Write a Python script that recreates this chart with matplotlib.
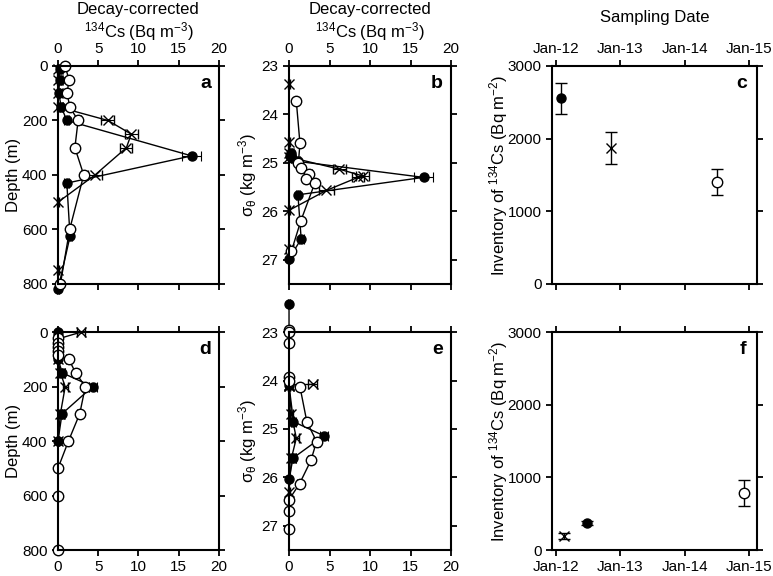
import datetime as dt

import matplotlib
matplotlib.use("Agg")
import matplotlib.pyplot as plt
import matplotlib.dates as mdates

plt.rcParams["font.family"] = ["Liberation Sans", "DejaVu Sans"]
plt.rcParams["mathtext.fontset"] = "custom"
plt.rcParams["mathtext.rm"] = "Liberation Sans"
plt.rcParams["mathtext.it"] = "Liberation Sans:italic"
plt.rcParams["font.size"] = 11

# --- panel a / b : first profile set (depth and sigma-theta) ---
a_fill_depth = [10, 50, 100, 150, 200, 330, 430, 625, 820]
a_fill_cs = [0.2, 0.2, 0.1, 0.4, 1.1, 16.6, 1.1, 1.5, 0.0]
a_fill_err = [0.2, 0.2, 0.2, 0.2, 0.3, 1.2, 0.3, 0.3, 0.1]
b_fill_sig = [24.80, 24.83, 24.86, 24.90, 24.97, 25.30, 25.66, 26.57, 26.98]

a_x_depth = [10, 50, 100, 150, 200, 250, 300, 400, 500, 750]
a_x_cs = [0, 0, 0, 0, 6.2, 9.1, 8.5, 4.6, 0, 0]
a_x_err = [0.1, 0.1, 0.1, 0.1, 0.8, 0.8, 0.75, 0.9, 0.1, 0.1]
b_x_sig = [23.37, 24.57, 24.80, 24.88, 25.13, 25.27, 25.30, 25.57, 25.98, 26.78]

a_open_depth = [0, 50, 100, 150, 200, 300, 400, 600, 800]
a_open_cs = [0.9, 1.35, 1.15, 1.45, 2.5, 2.1, 3.2, 1.45, 0.3]
a_open_err = [0.2, 0.2, 0.2, 0.2, 0.3, 0.2, 0.3, 0.2, 0.2]
b_open_sig = [23.73, 24.60, 25.01, 25.10, 25.23, 25.34, 25.41, 26.20, 26.82]

# --- panel d / e : second profile set ---
d_fill_depth = [0, 100, 150, 200, 300, 400]
d_fill_cs = [0.0, 0.0, 0.55, 4.3, 0.5, 0.0]
d_fill_err = [0.1, 0.1, 0.3, 0.5, 0.3, 0.1]
e_fill_sig = [22.42, 24.10, 24.85, 25.14, 25.60, 26.03]

d_x_depth = [0, 25, 50, 75, 100, 150, 200, 300, 400]
d_x_cs = [2.9, 0, 0, 0, 0, 0.3, 0.9, 0.3, 0]
d_x_err = [0.5, 0.1, 0.1, 0.1, 0.1, 0.2, 0.3, 0.2, 0.1]
e_x_sig = [24.08, 24.09, 24.10, 24.11, 24.12, 24.70, 25.19, 25.60, 26.30]

d_open_depth = [20, 40, 55, 70, 85, 100, 150, 200, 300, 400, 500, 600, 800]
d_open_cs = [0, 0, 0, 0, 0, 1.35, 2.2, 3.4, 2.7, 1.3, 0, 0, 0]
d_open_err = [0.1, 0.1, 0.1, 0.1, 0.1, 0.3, 0.3, 0.4, 0.3, 0.3, 0.1, 0.1, 0.1]
e_open_sig = [22.95, 23.00, 23.22, 23.93, 24.02, 24.13, 24.85, 25.26, 25.65,
              26.13, 26.46, 26.70, 27.07]

# --- panel c / f : inventories ---
c_dates = [dt.date(2012, 1, 29), dt.date(2012, 11, 6), dt.date(2014, 7, 5)]
c_inv = [2555, 1875, 1405]
c_err = [215, 220, 180]
f_dates = [dt.date(2012, 6, 28), dt.date(2012, 2, 15), dt.date(2014, 12, 1)]
f_inv = [377, 193, 791]
f_err = [30, 40, 180]

fill = dict(marker="o", mfc="black", mec="black", ms=6.5)
cross = dict(marker="x", mfc="none", mec="black", ms=7, mew=1)
opn = dict(marker="o", mfc="white", mec="black", ms=7.5)
styles = [cross, fill, opn]

cs_label = "Decay-corrected\n$\\mathregular{^{134}}$Cs (Bq m$\\mathregular{^{-3}}$)"
sig_label = "$\\mathregular{\\sigma_{\\theta}}$ (kg m$\\mathregular{^{-3}}$)"
inv_label = "Inventory of $\\mathregular{^{134}}$Cs (Bq m$\\mathregular{^{-2}}$)"

fig = plt.figure(figsize=(7.73, 5.76), dpi=100)
top_y, bot_y, h = 0.507, 0.045, 0.3785
ax_a = fig.add_axes([0.075, top_y, 0.2083, h])
ax_b = fig.add_axes([0.3739, top_y, 0.2096, h])
ax_c = fig.add_axes([0.7141, top_y, 0.2652, h])
ax_d = fig.add_axes([0.075, bot_y, 0.2083, h])
ax_e = fig.add_axes([0.3739, bot_y, 0.2096, h])
ax_f = fig.add_axes([0.7141, bot_y, 0.2652, h])


def style_axes(ax, top):
    for s in ax.spines.values():
        s.set_linewidth(1.5)
    ax.tick_params(direction="out", length=4, width=1.3, top=True, right=True,
                   labeltop=top, labelbottom=not top, labelsize=11, pad=3.5)


def profile(ax, series):
    for (xs, ys, errs), st in zip(series, styles):
        ax.errorbar(xs, ys, xerr=errs, color="black", lw=1, elinewidth=0.8,
                    capsize=3.5, capthick=0.8, clip_on=False, **st)


profile(ax_a, [(a_x_cs, a_x_depth, a_x_err), (a_fill_cs, a_fill_depth, a_fill_err),
               (a_open_cs, a_open_depth, a_open_err)])
profile(ax_b, [(a_x_cs, b_x_sig, a_x_err), (a_fill_cs, b_fill_sig, a_fill_err),
               (a_open_cs, b_open_sig, a_open_err)])
profile(ax_d, [(d_x_cs, d_x_depth, d_x_err), (d_fill_cs, d_fill_depth, d_fill_err),
               (d_open_cs, d_open_depth, d_open_err)])
profile(ax_e, [(d_x_cs, e_x_sig, d_x_err), (d_fill_cs, e_fill_sig, d_fill_err),
               (d_open_cs, e_open_sig, d_open_err)])

for ax, top in [(ax_a, True), (ax_d, False)]:
    ax.set_xlim(0, 20)
    ax.set_ylim(800, 0)
    ax.set_xticks([0, 5, 10, 15, 20])
    ax.set_yticks([0, 200, 400, 600, 800])
    ax.set_ylabel("Depth (m)", fontsize=12, labelpad=1)
    style_axes(ax, top)

for ax, top in [(ax_b, True), (ax_e, False)]:
    ax.set_xlim(0, 20)
    ax.set_ylim(27.5, 23)
    ax.set_xticks([0, 5, 10, 15, 20])
    ax.set_yticks([23, 24, 25, 26, 27])
    ax.set_ylabel(sig_label, fontsize=12, labelpad=2)
    style_axes(ax, top)

for ax in [ax_a, ax_b]:
    ax.xaxis.set_label_position("top")
    ax.set_xlabel(cs_label, fontsize=12, labelpad=3)

# inventory panels
ax_c.errorbar(c_dates[0], c_inv[0], yerr=c_err[0], color="black", capsize=4, lw=1, **fill)
ax_c.errorbar(c_dates[1], c_inv[1], yerr=c_err[1], color="black", capsize=4, lw=1, **cross)
ax_c.errorbar(c_dates[2], c_inv[2], yerr=c_err[2], color="black", capsize=4, lw=1, **opn)
ax_f.errorbar(f_dates[0], f_inv[0], yerr=f_err[0], color="black", capsize=4, lw=1, **fill)
ax_f.errorbar(f_dates[1], f_inv[1], yerr=f_err[1], color="black", capsize=4, lw=1, **cross)
ax_f.errorbar(f_dates[2], f_inv[2], yerr=f_err[2], color="black", capsize=4, lw=1, **opn)

for ax, top in [(ax_c, True), (ax_f, False)]:
    ax.set_xlim(dt.date(2011, 12, 10), dt.date(2015, 2, 15))
    ax.set_ylim(0, 3000)
    ax.set_yticks([0, 1000, 2000, 3000])
    ax.set_xticks([dt.date(y, 1, 1) for y in (2012, 2013, 2014, 2015)])
    ax.xaxis.set_major_formatter(mdates.DateFormatter("%b-%y"))
    ax.set_ylabel(inv_label, fontsize=12, labelpad=-2)
    style_axes(ax, top)

ax_c.xaxis.set_label_position("top")
ax_c.set_xlabel("Sampling Date", fontsize=12, labelpad=14)

for ax, lab in zip([ax_a, ax_b, ax_c, ax_d, ax_e, ax_f], "abcdef"):
    ax.text(0.95, 0.96, lab, transform=ax.transAxes, ha="right", va="top",
            fontsize=14, fontweight="bold")

fig.savefig("out.png", dpi=100)
